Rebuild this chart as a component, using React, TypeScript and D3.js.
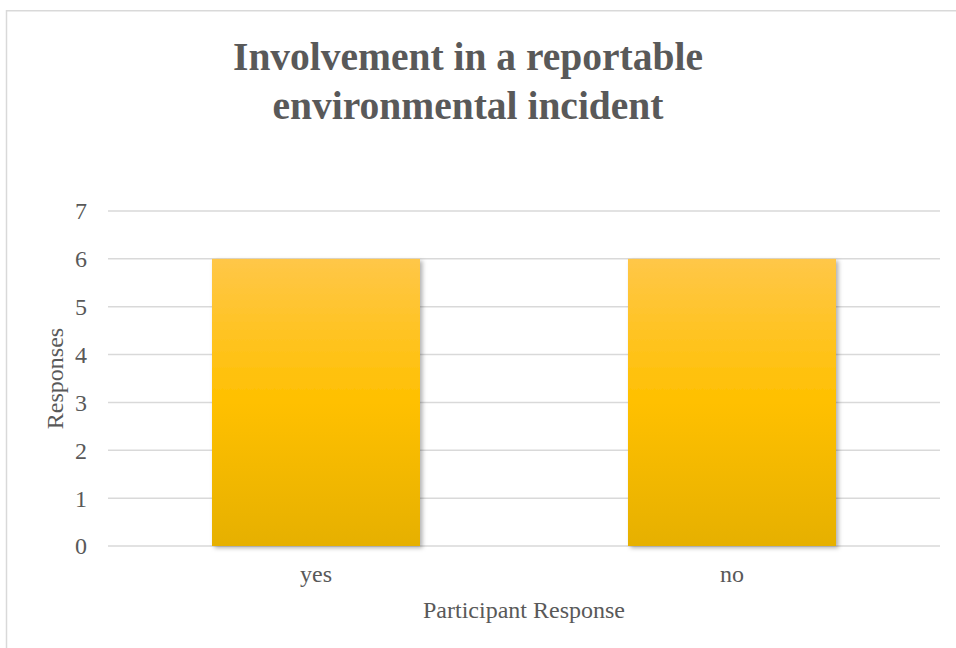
import React from "react";
import * as d3 from "d3";

const categories: string[] = ["yes", "no"];
const responses: number[] = [6, 6];
const yTicks: number[] = [0, 1, 2, 3, 4, 5, 6, 7];
const titleLines: string[] = ["Involvement in a reportable", "environmental incident"];
const xAxisTitle = "Participant Response";
const yAxisTitle = "Responses";

const W = 956;
const H = 648;
const plot = { left: 108, right: 940, top: 211, bottom: 546 };
const font = "'Liberation Serif', 'Times New Roman', serif";
const textColor = "#595959";

export default function App() {
  const x = d3
    .scaleBand<string>()
    .domain(categories)
    .range([plot.left, plot.right])
    .paddingInner(0.5)
    .paddingOuter(0.25);
  const y = d3.scaleLinear().domain([0, 7]).range([plot.bottom, plot.top]);

  return (
    <svg
      width={W}
      height={H}
      style={{ position: "absolute", left: 0, top: 0, background: "#fff" }}
    >
      <defs>
        <linearGradient id="barFill" x1="0" y1="0" x2="0" y2="1">
          <stop offset="0%" stopColor="#ffc748" />
          <stop offset="50%" stopColor="#ffc000" />
          <stop offset="100%" stopColor="#e6b000" />
        </linearGradient>
        <filter id="barShadow" x="-10%" y="-10%" width="130%" height="130%">
          <feDropShadow dx="2.5" dy="2" stdDeviation="2.2" floodColor="#000" floodOpacity="0.3" />
        </filter>
      </defs>

      {/* chart frame */}
      <rect x={6.5} y={10.75} width={W + 20} height={H + 20} fill="#fff" stroke="#d9d9d9" strokeWidth={1.5} />

      {/* title */}
      <text
        x={468}
        textAnchor="middle"
        fontFamily={font}
        fontWeight="bold"
        fontSize={39.5}
        fill={textColor}
      >
        {titleLines.map((t, i) => (
          <tspan key={i} x={468} y={70 + i * 49}>
            {t}
          </tspan>
        ))}
      </text>

      {/* gridlines and y tick labels */}
      {yTicks.map((t) => (
        <g key={t}>
          <line
            x1={plot.left}
            x2={plot.right}
            y1={y(t)}
            y2={y(t)}
            stroke="#d9d9d9"
            strokeWidth={1.5}
          />
          <text
            x={87}
            y={y(t)}
            dy="0.35em"
            textAnchor="end"
            fontFamily={font}
            fontSize={24}
            fill={textColor}
          >
            {t}
          </text>
        </g>
      ))}

      {/* bars */}
      {categories.map((c, i) => (
        <rect
          key={c}
          x={x(c)}
          y={y(responses[i])}
          width={x.bandwidth()}
          height={y(0) - y(responses[i])}
          fill="url(#barFill)"
          filter="url(#barShadow)"
        />
      ))}

      {/* category labels */}
      {categories.map((c) => (
        <text
          key={c}
          x={(x(c) as number) + x.bandwidth() / 2}
          y={582}
          textAnchor="middle"
          fontFamily={font}
          fontSize={24}
          fill={textColor}
        >
          {c}
        </text>
      ))}

      {/* axis titles */}
      <text
        x={(plot.left + plot.right) / 2}
        y={618}
        textAnchor="middle"
        fontFamily={font}
        fontSize={24}
        fill={textColor}
      >
        {xAxisTitle}
      </text>
      <text
        transform={`translate(63, ${(plot.top + plot.bottom) / 2}) rotate(-90)`}
        textAnchor="middle"
        fontFamily={font}
        fontSize={24}
        fill={textColor}
      >
        {yAxisTitle}
      </text>
    </svg>
  );
}
